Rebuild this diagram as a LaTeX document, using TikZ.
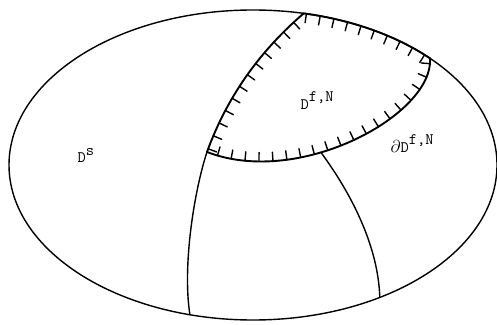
\documentclass[tikz,border=0pt]{standalone}
\usetikzlibrary{decorations.markings}
\begin{document}
\begin{tikzpicture}[x=1pt,y=1pt,
  line width=1.4pt, line cap=round, line join=round,
  lbl/.style={inner sep=0pt, anchor=base west, font=\fontsize{16}{18}\selectfont\ttfamily},
  lensline/.style={line width=1.9pt},
  hatch/.style={lensline, postaction={decorate},
    decoration={markings,
      mark=between positions 0.02 and 0.99 step 14pt with {\draw[line width=1.4pt] (0,0) -- (0,-9pt);}}}
]
\useasboundingbox (0,0) rectangle (497,324);
% outer ellipse
\coordinate (O) at (253,159);
\draw (O) ellipse [x radius=244, y radius=155];
% points on the ellipse
\coordinate (A) at (303.7,310.6);
\coordinate (B) at (430.0,265.7);
\coordinate (C) at (189.9,9.3);
\coordinate (E) at (379.8,26.6);
\coordinate (D) at (207,172);
% hatched boundary of D^{f,N}
\draw[hatch] (A) arc[start angle=78, end angle=43.5, x radius=244, y radius=155];
\draw[hatch] (B) .. controls (434,210) and (300,136) .. coordinate[pos=0.62] (J) (D);
\draw[hatch] (D) .. controls (226.7,226.3) and (258.7,271.9) .. (A);
% inner curves
\draw (D) .. controls (195,136) and (182,60) .. (C);
\draw (J) .. controls (345,139) and (378,84) .. (E);
% labels
\node[lbl] (ds) at (77,161) {D\raisebox{7pt}{s}};
\node[lbl] (dfn) at (300,214) {D\raisebox{8pt}{f,N}};
\node[lbl] (bdfn) at (390,171) {$\partial$D\raisebox{8pt}{f,N}};
\end{tikzpicture}
\end{document}
